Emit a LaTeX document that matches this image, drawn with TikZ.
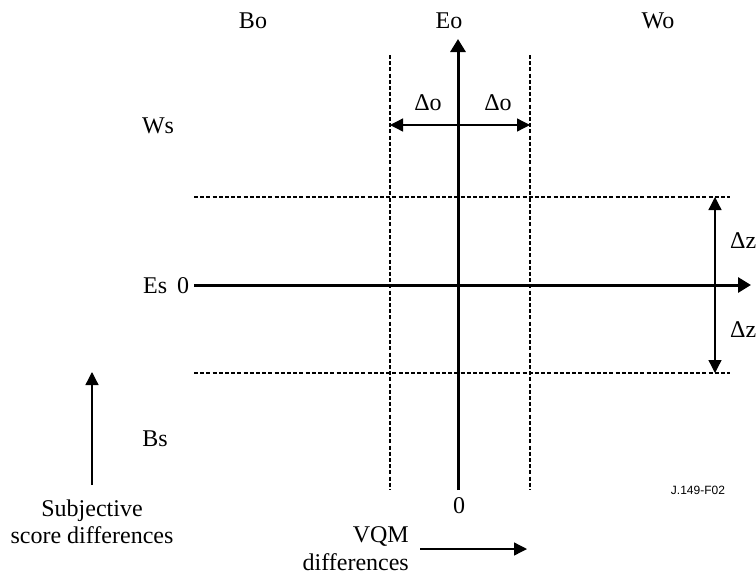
\documentclass[tikz,border=0pt]{standalone}
\usepackage{fontspec}
\setmainfont{Liberation Serif}
\newfontfamily\sansf{Liberation Sans}
\usetikzlibrary{arrows.meta}
\begin{document}
\begin{tikzpicture}[x=1pt,y=-1pt,
  >={Triangle[length=13pt,width=13pt]},
  lbl/.style={inner sep=0pt,font=\fontsize{24}{27}\selectfont},
  axis/.style={line width=3pt,-{Triangle[length=13pt,width=15pt]}},
  dline/.style={line width=1.8pt,dash pattern=on 4pt off 2.2pt},
  thin/.style={line width=1.3pt}]
\useasboundingbox (0,0) rectangle (756,574);
% coordinates
\coordinate (vb) at (458,490);
\coordinate (vt) at (458,39);
\coordinate (hl) at (194,285);
\coordinate (hr) at (751,285);
\coordinate (d1t) at (390,55); \coordinate (d1b) at (390,490);
\coordinate (d2t) at (530,55); \coordinate (d2b) at (530,490);
\coordinate (h1l) at (194,197); \coordinate (h1r) at (730,197);
\coordinate (h2l) at (194,373); \coordinate (h2r) at (730,373);
\coordinate (ol) at (390,125); \coordinate (or) at (530,125);
\coordinate (zt) at (715,197); \coordinate (zb) at (715,373);
\coordinate (sb) at (92,485); \coordinate (st) at (92,372);
\coordinate (ql) at (420,549); \coordinate (qr) at (527,549);
% dashed lines
\draw[dline] (d1t) -- (d1b);
\draw[dline] (d2t) -- (d2b);
\draw[dline] (h1l) -- (h1r);
\draw[dline] (h2l) -- (h2r);
% axes
\draw[axis] (vb) -- (vt);
\draw[axis] (hl) -- (hr);
% delta arrows
\draw[thin,<->] (ol) -- (or);
\draw[thin,<->] (zt) -- (zb);
\draw[thin,->] (sb) -- (st);
\draw[thin,->] (ql) -- (qr);
% labels
\node[lbl,anchor=base] (bo) at (253,28) {Bo};
\node[lbl,anchor=base] (eo) at (449,28) {Eo};
\node[lbl,anchor=base] (wo) at (658,28) {Wo};
\node[lbl,anchor=base] (ws) at (158,133) {Ws};
\node[lbl,anchor=base west] (es) at (143,293) {Es};
\node[lbl,anchor=base west] (z1) at (177,293) {0};
\node[lbl,anchor=base] (bs) at (155,446) {Bs};
\node[lbl,anchor=base] (z2) at (459,513) {0};
\node[lbl,anchor=base] (do1) at (428,110) {Δo};
\node[lbl,anchor=base] (do2) at (498,110) {Δo};
\node[lbl,anchor=base west] (dz1) at (730,248) {Δz};
\node[lbl,anchor=base west] (dz2) at (730,337) {Δz};
\node[lbl,align=center] (subj) at (92,522) {Subjective\\score differences};
\node[lbl,align=right,anchor=east,font=\fontsize{24}{28}\selectfont] (vqm) at (409,549) {VQM\\differences};
\node[inner sep=0pt,font=\sansf\fontsize{12}{14}\selectfont] (jf) at (698,490) {J.149-F02};
\end{tikzpicture}
\end{document}
